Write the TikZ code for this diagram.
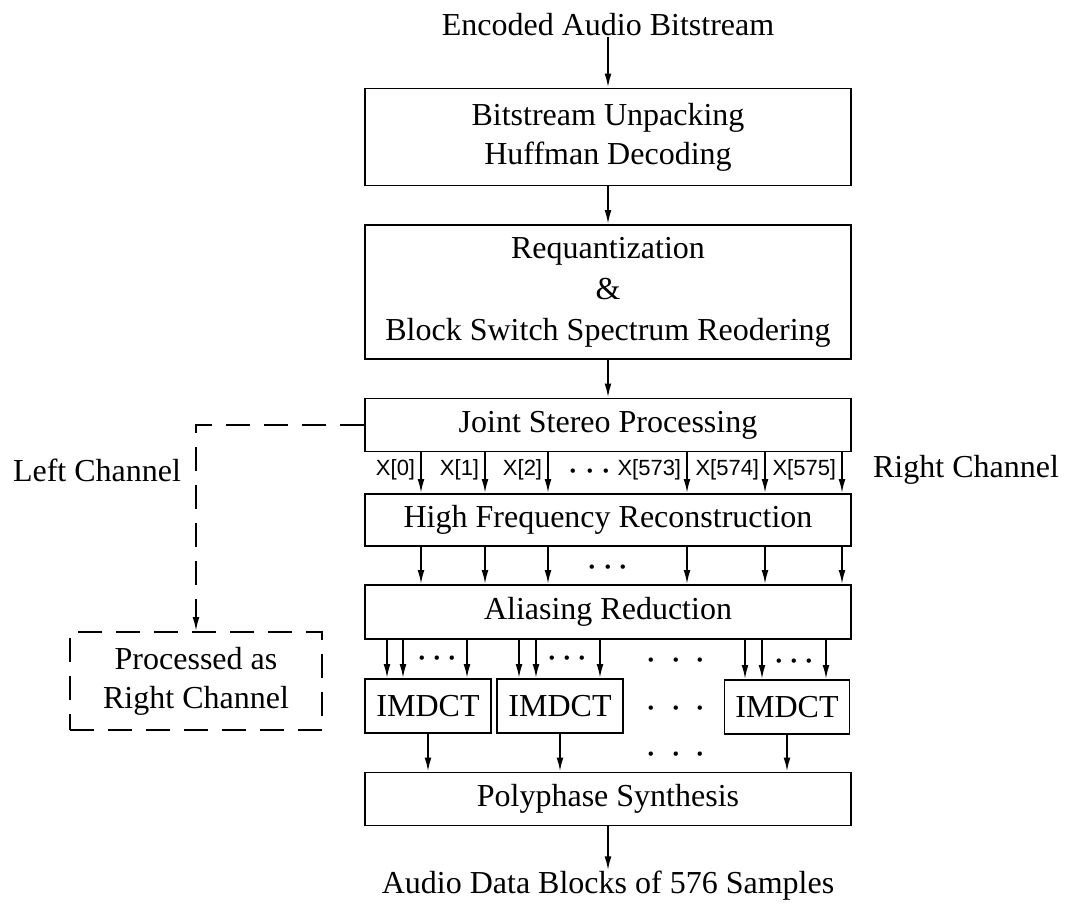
\documentclass[tikz,border=0pt]{standalone}
\usepackage{fontspec}
\setmainfont{Liberation Serif}
\newfontfamily\labelfont{Liberation Sans}
\usetikzlibrary{arrows.meta}
\newcommand{\spreaddots}[1]{$\cdot$\hspace{#1}$\cdot$\hspace{#1}$\cdot$}
\begin{document}
\begin{tikzpicture}[x=0.5pt,y=-0.5pt,line width=0.9pt,
  blk/.style={draw, rectangle, inner sep=0pt, align=center, font=\fontsize{16}{19.5}\selectfont},
  txt/.style={inner sep=0pt, align=center, font=\fontsize{16}{19.5}\selectfont},
  xlab/.style={inner sep=0pt, anchor=east, font=\labelfont\fontsize{11}{13}\selectfont},
  dotrow/.style={inner sep=0pt, anchor=base, font=\fontsize{22}{24}\selectfont},
  arr/.style={-{Latex[length=7pt,width=3.4pt]}},
  dsh/.style={dash pattern=on 12pt off 7pt}]
\useasboundingbox (0,0) rectangle (1065,911);
\node [txt] (input) at (608,25) {Encoded Audio Bitstream};
\node [blk, minimum width=243pt, minimum height=48.5pt] (unpack) at (608,137) {Bitstream Unpacking\\Huffman Decoding};
\node [blk, minimum width=243pt, minimum height=67pt, font=\fontsize{16}{20.5}\selectfont] (requant) at (608,292) {Requantization\\\&\\Block Switch Spectrum Reodering};
\node [blk, minimum width=243pt, minimum height=26.5pt] (joint) at (608,425) {Joint Stereo Processing};
\node [blk, minimum width=243pt, minimum height=26pt] (hfr) at (608,520) {High Frequency Reconstruction};
\node [blk, minimum width=243pt, minimum height=27pt] (alias) at (608,612) {Aliasing Reduction};
\node [blk, minimum width=63pt, minimum height=27pt] (imdctA) at (428,706) {IMDCT};
\node [blk, minimum width=63pt, minimum height=27pt] (imdctB) at (560,706) {IMDCT};
\node [blk, minimum width=62.5pt, minimum height=27pt] (imdctC) at (787,707) {IMDCT};
\node [blk, minimum width=243pt, minimum height=26.5pt] (poly) at (608,799) {Polyphase Synthesis};
\node [txt] (output) at (608,886) {Audio Data Blocks of 576 Samples};
\node [txt] (leftch) at (97,470) {Left Channel};
\node [txt] (rightch) at (966,470) {Right Channel};
\node [blk, dsh, minimum width=126pt, minimum height=49pt] (processed) at (196,681) {Processed as\\Right Channel};
\coordinate (bend) at (196,425);
\coordinate (c0) at (421,0);
\coordinate (c1) at (485,0);
\coordinate (c2) at (548,0);
\coordinate (c3) at (687,0);
\coordinate (c4) at (765,0);
\coordinate (c5) at (842,0);
\coordinate (a1) at (387,0);
\coordinate (a2) at (403,0);
\coordinate (a3) at (467,0);
\coordinate (b1) at (519,0);
\coordinate (b2) at (536,0);
\coordinate (b3) at (600,0);
\coordinate (d1) at (745,0);
\coordinate (d2) at (762,0);
\coordinate (d3) at (826,0);
\node [xlab] (x0) at (416,470) {X[0]};
\node [xlab] (x1) at (480,470) {X[1]};
\node [xlab] (x2) at (543,470) {X[2]};
\node [xlab] (x573) at (682,470) {X[573]};
\node [xlab] (x574) at (760,470) {X[574]};
\node [xlab] (x575) at (837,470) {X[575]};
\node [dotrow] (dotsJ) at (590,481) {\spreaddots{2.5pt}};
\node [dotrow] (dotsH) at (608,577) {\spreaddots{2pt}};
\node [dotrow] (dotsA) at (437,668) {\spreaddots{1.8pt}};
\node [dotrow] (dotsB) at (567,668) {\spreaddots{1.8pt}};
\node [dotrow] (dotsC) at (794,671) {\spreaddots{1.8pt}};
\node [dotrow] (dotsM1) at (676,670) {\spreaddots{6.4pt}};
\node [dotrow] (dotsM2) at (676,718) {\spreaddots{6.4pt}};
\node [dotrow] (dotsM3) at (676,764) {\spreaddots{6.4pt}};
\draw [arr] (input.south) -- (unpack.north);
\draw [arr] (unpack.south) -- (requant.north);
\draw [arr] (requant.south) -- (joint.north);
\draw [dsh, arr] (joint.west) -- (bend) -- (processed.north);
\draw [arr] (c0 |- joint.south) -- (c0 |- hfr.north);
\draw [arr] (c1 |- joint.south) -- (c1 |- hfr.north);
\draw [arr] (c2 |- joint.south) -- (c2 |- hfr.north);
\draw [arr] (c3 |- joint.south) -- (c3 |- hfr.north);
\draw [arr] (c4 |- joint.south) -- (c4 |- hfr.north);
\draw [arr] (c5 |- joint.south) -- (c5 |- hfr.north);
\draw [arr] (c0 |- hfr.south) -- (c0 |- alias.north);
\draw [arr] (c1 |- hfr.south) -- (c1 |- alias.north);
\draw [arr] (c2 |- hfr.south) -- (c2 |- alias.north);
\draw [arr] (c3 |- hfr.south) -- (c3 |- alias.north);
\draw [arr] (c4 |- hfr.south) -- (c4 |- alias.north);
\draw [arr] (c5 |- hfr.south) -- (c5 |- alias.north);
\draw [arr] (a1 |- alias.south) -- (a1 |- imdctA.north);
\draw [arr] (a2 |- alias.south) -- (a2 |- imdctA.north);
\draw [arr] (a3 |- alias.south) -- (a3 |- imdctA.north);
\draw [arr] (b1 |- alias.south) -- (b1 |- imdctB.north);
\draw [arr] (b2 |- alias.south) -- (b2 |- imdctB.north);
\draw [arr] (b3 |- alias.south) -- (b3 |- imdctB.north);
\draw [arr] (d1 |- alias.south) -- (d1 |- imdctC.north);
\draw [arr] (d2 |- alias.south) -- (d2 |- imdctC.north);
\draw [arr] (d3 |- alias.south) -- (d3 |- imdctC.north);
\draw [arr] (imdctA.south) -- (imdctA.south |- poly.north);
\draw [arr] (imdctB.south) -- (imdctB.south |- poly.north);
\draw [arr] (imdctC.south) -- (imdctC.south |- poly.north);
\draw [arr] (poly.south) -- (output.north);
\end{tikzpicture}
\end{document}
